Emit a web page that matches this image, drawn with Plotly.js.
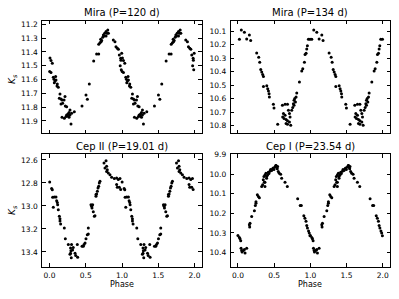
<!DOCTYPE html>
<html>
<head>
<meta charset="utf-8">
<script src="https://cdn.plot.ly/plotly-3.0.1.min.js"></script>
<style>html,body{margin:0;padding:0;background:#fff;}#chart{width:399px;height:299px;}</style>
</head>
<body>
<div id="chart"></div>
<script>
// ---- Data (phase in [0,1], Ks magnitude); each curve is drawn twice (phase and phase+1)
const titles = ["Mira (P=120 d)", "Mira (P=134 d)", "Cep II (P=19.01 d)", "Cep I (P=23.54 d)"];

const mira120Phase = [0.006,0.02,0.038,0.002,0.02,0.052,0.061,0.075,0.066,0.084,0.089,0.107,0.121,0.103,0.144,0.135,0.158,0.172,0.181,0.2,0.213,0.158,0.218,0.236,0.172,0.204,0.227,0.236,0.255,0.269,0.282,0.25,0.269,0.282,0.296,0.305,0.342,0.448,0.503,0.522,0.549,0.609,0.65,0.678,0.679,0.696,0.706,0.72,0.734,0.711,0.743,0.761,0.78,0.793,0.803,0.812,0.78,0.752,0.88,0.903,0.917,0.936,0.95,0.963,0.982,0.996,0.975,0.99,0.985];
const mira120Mag = [11.444,11.463,11.483,11.543,11.55,11.584,11.599,11.611,11.623,11.579,11.603,11.632,11.657,11.647,11.705,11.736,11.741,11.748,11.772,11.748,11.724,11.777,11.792,11.797,11.874,11.881,11.869,11.857,11.85,11.84,11.821,11.864,11.874,11.857,11.922,11.845,11.833,11.792,11.712,11.743,11.632,11.466,11.415,11.415,11.345,11.333,11.309,11.318,11.294,11.326,11.277,11.265,11.253,11.265,11.241,11.265,11.285,11.285,11.314,11.326,11.362,11.374,11.381,11.422,11.446,11.41,11.5,11.53,11.46];

const mira134Phase = [0.02,0.047,0.089,0.121,0.158,0.176,0.259,0.287,0.301,0.315,0.329,0.342,0.352,0.352,0.398,0.411,0.421,0.43,0.434,0.489,0.498,0.549,0.614,0.628,0.651,0.618,0.637,0.665,0.684,0.651,0.684,0.697,0.711,0.72,0.684,0.711,0.729,0.665,0.743,0.757,0.766,0.775,0.785,0.775,0.794,0.803,0.812,0.849,0.881,0.895,0.918,0.927,0.941,0.95,0.959,0.973,0.996];
const mira134Mag = [10.161,10.093,10.11,10.159,10.129,10.171,10.262,10.293,10.33,10.384,10.403,10.421,10.435,10.509,10.504,10.526,10.543,10.563,10.587,10.641,10.668,10.788,10.648,10.709,10.722,10.734,10.746,10.753,10.763,10.641,10.641,10.685,10.709,10.734,10.788,10.771,10.795,10.783,10.685,10.665,10.636,10.611,10.599,10.648,10.624,10.587,10.558,10.477,10.396,10.379,10.33,10.274,10.264,10.232,10.208,10.161,10.161];

const cep2Phase = [0.002,0.029,0.038,0.043,0.066,0.089,0.098,0.107,0.112,0.052,0.121,0.135,0.144,0.144,0.153,0.204,0.218,0.259,0.29,0.295,0.29,0.3,0.282,0.318,0.327,0.304,0.352,0.361,0.383,0.388,0.448,0.466,0.476,0.49,0.503,0.521,0.535,0.535,0.581,0.572,0.586,0.595,0.604,0.618,0.627,0.641,0.65,0.641,0.66,0.669,0.678,0.687,0.696,0.752,0.78,0.765,0.788,0.797,0.811,0.788,0.834,0.857,0.894,0.926,0.949,0.972,0.926,0.935,0.963,0.982];
const cep2Mag = [12.791,12.849,12.858,12.925,12.922,12.922,12.954,12.97,12.99,13.012,13.032,13.09,13.11,13.13,13.157,13.191,13.284,13.336,13.365,13.39,13.41,13.45,13.42,13.383,13.36,13.336,13.41,13.43,13.336,13.445,13.35,13.35,13.336,13.322,13.284,13.25,13.244,13.191,13.003,12.99,13.017,12.99,13.05,13.09,13.084,12.9,12.896,12.916,12.872,12.843,12.829,12.8,12.786,12.626,12.606,12.67,12.655,12.684,12.713,12.7,12.728,12.75,12.762,12.757,12.77,12.762,12.814,12.838,12.838,12.857];

const cep1Phase = [0.0,0.02,0.029,0.038,0.043,0.052,0.057,0.075,0.089,0.121,0.098,0.158,0.162,0.167,0.19,0.227,0.24,0.249,0.249,0.268,0.282,0.296,0.328,0.341,0.364,0.373,0.373,0.35,0.359,0.373,0.387,0.396,0.396,0.41,0.419,0.428,0.442,0.451,0.465,0.479,0.488,0.497,0.511,0.525,0.534,0.543,0.557,0.525,0.548,0.571,0.59,0.604,0.65,0.682,0.825,0.86,0.875,0.91,0.925,0.94,0.95,0.96,0.975,0.985,0.995];
const cep1Mag = [10.313,10.323,10.33,10.34,10.378,10.39,10.398,10.39,10.385,10.378,10.403,10.258,10.27,10.25,10.216,10.187,10.16,10.148,10.14,10.105,10.114,10.12,10.062,10.053,10.04,10.04,10.062,10.028,10.011,10.003,9.994,10.011,10.02,10.003,9.99,9.996,9.984,9.975,9.98,9.972,9.968,9.975,9.963,9.955,9.964,9.972,9.985,9.955,9.96,9.994,10.0,10.02,10.04,10.062,10.125,10.16,10.16,10.212,10.225,10.24,10.262,10.275,10.29,10.3,10.315];

// ---- Build traces
function twoCycles(ph, mg, xa, ya) {
  return {
    x: ph.concat(ph.map(p => p + 1)),
    y: mg.concat(mg),
    xaxis: xa, yaxis: ya,
    type: 'scatter', mode: 'markers',
    marker: {color: '#000', size: 3},
    showlegend: false, hoverinfo: 'skip'
  };
}
const data = [
  twoCycles(mira120Phase, mira120Mag, 'x', 'y'),
  twoCycles(mira134Phase, mira134Mag, 'x2', 'y2'),
  twoCycles(cep2Phase, cep2Mag, 'x3', 'y3'),
  twoCycles(cep1Phase, cep1Mag, 'x4', 'y4')
];

const FONT = 'DejaVu Sans';
const W = 399, H = 299;
function px2x(p) { return p / W; }
function px2y(p) { return 1 - p / H; }

const colL = [42.3, 201.7], colR = [230.7, 390];
const rowT = [20.7, 133.3], rowB = [154, 266.7];

function xax(dom, anchor, labels) {
  return {
    domain: [px2x(dom[0]), px2x(dom[1])], anchor: anchor,
    range: [-0.1, 2.1], tick0: 0, dtick: 0.5, tickformat: '.1f',
    showticklabels: labels, ticks: 'inside', ticklen: 3.5, tickwidth: 1, tickcolor: '#000',
    ticklabelstandoff: 1,
    mirror: 'ticks', showline: true, linecolor: '#000', linewidth: 1,
    showgrid: false, zeroline: false,
    tickfont: {family: FONT, size: 7.5, color: '#000'}
  };
}
function yax(dom, anchor, range, dtick) {
  return {
    domain: [px2y(dom[1]), px2y(dom[0])], anchor: anchor,
    range: range, tick0: 0, dtick: dtick, tickformat: '.1f',
    ticks: 'inside', ticklen: 3.5, tickwidth: 1, tickcolor: '#000',
    ticklabelstandoff: 2,
    mirror: 'ticks', showline: true, linecolor: '#000', linewidth: 1,
    showgrid: false, zeroline: false,
    tickfont: {family: FONT, size: 7.5, color: '#000'}
  };
}

const cxL = (colL[0] + colL[1]) / 2, cxR = (colR[0] + colR[1]) / 2;
const ann = [];
function addAnn(text, xpx, ypx, size, angle) {
  ann.push({text: text, xref: 'paper', yref: 'paper', x: px2x(xpx), y: px2y(ypx),
    xanchor: 'center', yanchor: 'middle', showarrow: false, textangle: angle || 0,
    font: {family: FONT, size: size, color: '#000'}});
}
addAnn(titles[0], cxL, 13, 10);
addAnn(titles[1], cxR, 13, 10);
addAnn(titles[2], cxL, 146, 10);
addAnn(titles[3], cxR, 146, 10);
addAnn('Phase', cxL, 284, 8);
addAnn('Phase', cxR, 284, 8);
addAnn('<i>K</i><sub><i>s</i></sub>', 12, 79, 9, -90);
addAnn('<i>K</i><sub><i>s</i></sub>', 12, 210, 9, -90);

const layout = {
  width: W, height: H,
  margin: {l: 0, r: 0, t: 0, b: 0},
  paper_bgcolor: '#fff', plot_bgcolor: '#fff',
  showlegend: false,
  xaxis: xax(colL, 'y', false),
  xaxis2: xax(colR, 'y2', false),
  xaxis3: xax(colL, 'y3', true),
  xaxis4: xax(colR, 'y4', true),
  yaxis: yax(rowT, 'x', [11.99, 11.174], 0.1),
  yaxis2: yax(rowT, 'x2', [10.855, 10.024], 0.1),
  yaxis3: yax(rowB, 'x3', [13.528, 12.548], 0.2),
  yaxis4: yax(rowB, 'x4', [10.473, 9.896], 0.1),
  annotations: ann
};

Plotly.newPlot('chart', data, layout, {staticPlot: true, displayModeBar: false});
</script>
</body>
</html>
